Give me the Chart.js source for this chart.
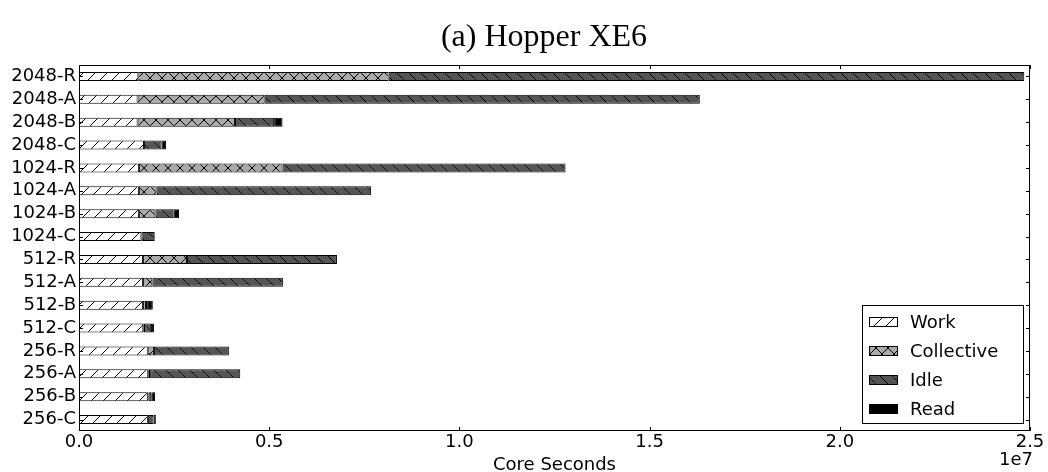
<!DOCTYPE html>
<html>
<head>
<meta charset="utf-8">
<script src="https://cdn.jsdelivr.net/npm/chart.js@4.4.1/dist/chart.umd.min.js"></script>
<style>
  html, body { margin: 0; padding: 0; background: #ffffff; }
  #wrap { width: 1048px; height: 472px; position: relative; }
</style>
</head>
<body>
<div id="wrap"><canvas id="chart" width="1048" height="472"></canvas></div>
<script>
// Run configurations, listed top to bottom
const categories = [
  '2048-R', '2048-A', '2048-B', '2048-C',
  '1024-R', '1024-A', '1024-B', '1024-C',
  '512-R', '512-A', '512-B', '512-C',
  '256-R', '256-A', '256-B', '256-C'
];

// Core seconds spent in each phase
const workValues = [
  1.56e6, 1.54e6, 1.54e6, 1.71e6,
  1.58e6, 1.58e6, 1.58e6, 1.64e6,
  1.68e6, 1.68e6, 1.68e6, 1.69e6,
  1.82e6, 1.82e6, 1.81e6, 1.81e6
];
const collectiveValues = [
  6.58e6, 3.34e6, 2.56e6, 0,
  3.77e6, 0.46e6, 0.43e6, 0,
  1.16e6, 0.25e6, 0.08e6, 0.05e6,
  0.15e6, 0.05e6, 0.02e6, 0
];
const idleValues = [
  16.71e6, 11.44e6, 1.03e6, 0.46e6,
  7.44e6, 5.64e6, 0.47e6, 0.34e6,
  3.94e6, 3.43e6, 0.05e6, 0.15e6,
  1.97e6, 2.37e6, 0.07e6, 0.15e6
];
const readValues = [
  0, 0, 0.22e6, 0.12e6,
  0, 0, 0.15e6, 0.02e6,
  0, 0, 0.13e6, 0.08e6,
  0, 0, 0.10e6, 0.06e6
];

const seriesLabels = ['Work', 'Collective', 'Idle', 'Read'];
const xTickValues = [0, 0.5e7, 1.0e7, 1.5e7, 2.0e7, 2.5e7];
const xExponent = 7;

const canvas = document.getElementById('chart');
const ctx = canvas.getContext('2d');

// Hatched fill built from a 12px repeating tile
function hatchPattern(fill, marks) {
  const s = 12;
  const tile = document.createElement('canvas');
  tile.width = s; tile.height = s;
  const g = tile.getContext('2d');
  g.fillStyle = fill;
  g.fillRect(0, 0, s, s);
  g.strokeStyle = '#000000';
  g.lineWidth = 1;
  g.beginPath();
  for (let k = -1; k <= 1; k++) {
    if (marks.indexOf('/') >= 0) { g.moveTo(k * s, s); g.lineTo(k * s + s, 0); }
    if (marks.indexOf('\\') >= 0) { g.moveTo(k * s, 0); g.lineTo(k * s + s, s); }
  }
  g.stroke();
  return ctx.createPattern(tile, 'repeat');
}

const fills = [
  hatchPattern('#ffffff', '/'),
  hatchPattern('#aaaaaa', '/\\'),
  hatchPattern('#555555', '\\'),
  '#000000'
];
const seriesValues = [workValues, collectiveValues, idleValues, readValues];

const FONT = 'DejaVu Sans';

// Frame, inward ticks, title, axis label, offset text and legend
const decorations = {
  id: 'decorations',
  afterDatasetsDraw(chart) {
    const c = chart.ctx;
    const a = chart.chartArea;
    const xs = chart.scales.x;
    const ys = chart.scales.y;
    c.save();
    c.strokeStyle = '#000000';
    c.lineWidth = 1;
    c.strokeRect(a.left + 0.5, a.top + 0.5, a.right - a.left - 1, a.bottom - a.top - 1);
    c.beginPath();
    xTickValues.forEach(v => {
      const px = Math.round(xs.getPixelForValue(v)) + 0.5;
      c.moveTo(px, a.bottom); c.lineTo(px, a.bottom - 4);
      c.moveTo(px, a.top); c.lineTo(px, a.top + 4);
    });
    categories.forEach((_, i) => {
      const py = Math.round(ys.getPixelForValue(i)) + 0.5;
      c.moveTo(a.left, py); c.lineTo(a.left + 4, py);
      c.moveTo(a.right, py); c.lineTo(a.right - 4, py);
    });
    c.stroke();

    // Title
    c.fillStyle = '#000000';
    c.font = '32px "Liberation Serif"';
    c.textAlign = 'center';
    c.textBaseline = 'alphabetic';
    c.fillText('(a) Hopper XE6', 544, 46);

    // Axis label and exponent
    c.font = '18px "' + FONT + '"';
    c.fillText('Core Seconds', (a.left + a.right) / 2, 470);
    c.textAlign = 'right';
    c.fillText('1e' + xExponent, a.right + 3, 465);

    // Legend
    const lx = 862, ly = 305, lw = 161, lh = 118;
    c.fillStyle = '#ffffff';
    c.fillRect(lx, ly, lw, lh);
    c.strokeRect(lx + 0.5, ly + 0.5, lw, lh);
    chart.data.datasets.forEach((ds, i) => {
      const cy = 322 + i * 29;
      c.fillStyle = ds.backgroundColor;
      c.fillRect(869, cy - 5, 29, 10);
      c.strokeRect(869.5, cy - 4.5, 28, 9);
      c.fillStyle = '#000000';
      c.textAlign = 'left';
      c.textBaseline = 'middle';
      c.font = '18px "' + FONT + '"';
      c.fillText(ds.label, 910, cy + 1);
    });
    c.restore();
  }
};

new Chart(ctx, {
  type: 'bar',
  data: {
    labels: categories,
    datasets: seriesLabels.map((label, i) => ({
      label: label,
      data: seriesValues[i],
      backgroundColor: fills[i],
      borderColor: '#000000',
      borderWidth: 1,
      borderSkipped: false,
      inflateAmount: 0,
      barThickness: 9,
      stack: 'phases'
    }))
  },
  options: {
    indexAxis: 'y',
    responsive: false,
    animation: false,
    devicePixelRatio: 1,
    layout: { padding: { top: 65, right: 18, left: 0, bottom: 0 } },
    plugins: {
      legend: { display: false },
      title: { display: false },
      tooltip: { enabled: false }
    },
    scales: {
      x: {
        type: 'linear',
        stacked: true,
        min: 0,
        max: 2.5e7,
        afterFit(scale) { scale.height = 41; },
        afterBuildTicks(scale) { scale.ticks = xTickValues.map(v => ({ value: v })); },
        ticks: {
          color: '#000000',
          font: { family: FONT, size: 18 },
          padding: 1,
          maxRotation: 0,
          callback: v => (v / Math.pow(10, xExponent)).toFixed(1)
        },
        grid: { display: false, drawTicks: false },
        border: { display: false }
      },
      y: {
        stacked: true,
        afterFit(scale) { scale.width = 79; },
        ticks: {
          color: '#000000',
          font: { family: FONT, size: 18 },
          padding: 3,
          autoSkip: false
        },
        grid: { display: false, drawTicks: false },
        border: { display: false }
      }
    }
  },
  plugins: [decorations]
});
</script>
</body>
</html>
